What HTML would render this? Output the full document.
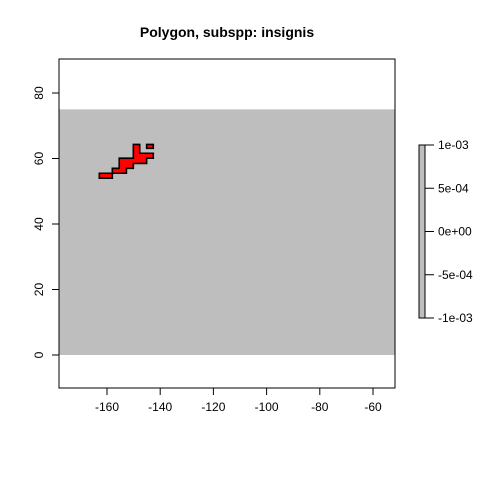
<!DOCTYPE html>
<html><head><meta charset="utf-8"><style>
body{margin:0;background:#fff}
svg{display:block;font-family:"Liberation Sans",Arial,sans-serif}
</style></head><body>
<svg id="c" width="480" height="480"></svg>
<script>
const xTicks=[-160,-140,-120,-100,-80,-60];
const yTicks=[0,20,40,60,80];
const rasterExtent=[-180,-50,0,75];
const polyMain=[[-162.9,54],[-158,54],[-158,55.5],[-152.7,55.5],[-152.7,57],[-150.1,57],[-150.1,58.5],[-145.1,58.5],[-145.1,60.1],[-142.6,60.1],[-142.6,61.6],[-147.7,61.6],[-147.7,64.3],[-150.1,64.3],[-150.1,60.1],[-155.4,60.1],[-155.4,57],[-158,57],[-158,55.5],[-162.9,55.5]];
const polySmall=[[-145.1,63.1],[-142.6,63.1],[-142.6,64.3],[-145.1,64.3]];
const legendLabels=["1e-03","5e-04","0e+00","-5e-04","-1e-03"];
const legendValues=[0.001,0.0005,0,-0.0005,-0.001];

const NS="http://www.w3.org/2000/svg";
const svg=document.getElementById('c');
const X=v=>107+(v+160)*2.66;
const Y=v=>355-v*3.275;
function el(t,a,p){const e=document.createElementNS(NS,t);for(const k in a)e.setAttribute(k,a[k]);(p||svg).appendChild(e);return e;}
const L=59,R=395,T=59,B=388;
const cp=el('clipPath',{id:'clip'});el('rect',{x:L,y:T,width:R-L,height:B-T},cp);
const g=el('g',{'clip-path':'url(#clip)'});
const ras=el('rect',{x:X(rasterExtent[0]),y:Y(rasterExtent[3]),width:X(rasterExtent[1])-X(rasterExtent[0]),height:Y(rasterExtent[2])-Y(rasterExtent[3]),fill:'#bebebe'},g);


[polyMain,polySmall].forEach((p,i)=>{
 const e=el('polygon',{points:p.map(q=>X(q[0])+','+Y(q[1])).join(' '),fill:'#ff0000',stroke:'#000','stroke-width':1.6},g);
 
 
});
const box=el('rect',{x:L,y:T,width:R-L,height:B-T,fill:'none',stroke:'#000'});


xTicks.forEach(v=>{
 el('line',{x1:X(v),x2:X(v),y1:B,y2:B+7,stroke:'#000'});
 const t=el('text',{x:X(v),y:B+23,'text-anchor':'middle','font-size':12});t.textContent=v;
 
 
});
yTicks.forEach(v=>{
 el('line',{x1:L-7,x2:L,y1:Y(v),y2:Y(v),stroke:'#000'});
 const t=el('text',{x:L-16,y:Y(v),'text-anchor':'middle','font-size':12,transform:`rotate(-90 ${L-16} ${Y(v)})`});t.textContent=v;
 
 
});
const title=el('text',{x:227,y:37,'text-anchor':'middle','font-size':14,'font-weight':'bold'});
title.textContent='Polygon, subspp: insignis';


// legend
const lt=145,lb=318,lx=419,lw=6;
const ly=v=>lt+(0.001-v)/0.002*(lb-lt);
const lg=el('rect',{x:lx,y:lt,width:lw,height:lb-lt,fill:'#bebebe',stroke:'#000'});


legendValues.forEach((v,i)=>{
 el('line',{x1:lx+lw,x2:lx+lw+9,y1:ly(v),y2:ly(v),stroke:'#000'});
 const t=el('text',{x:438,y:ly(v)+4,'font-size':12});t.textContent=legendLabels[i];
 
 
});
</script>
</body></html>
